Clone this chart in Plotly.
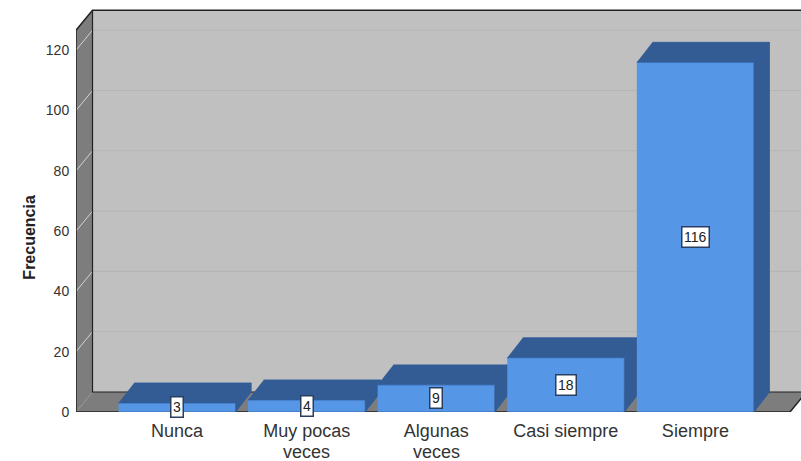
import plotly.graph_objects as go

categories = ["Nunca", "Muy pocas", "Algunas", "Casi siempre", "Siempre"]
category_second_lines = ["", "veces", "veces", "", ""]
frequencies = [3, 4, 9, 18, 116]
y_ticks = [0, 20, 40, 60, 80, 100, 120]

BAR_W = 0.9035
DX = 0.1274
BAR_DX = 0.12
DY = 6.63
X0, X1 = -0.78, 4.815
Y_TOP = 136.65
FRAME_TOP = 126.6
FRAME_R = 4.73

FRONT = "#5596e6"
DARK = "#345c94"
EDGE = "#2f5c9c"
WALL = "#c0c0c0"
SIDE = "#7d7d7d"
fig = go.Figure()


def poly(xs, ys, fill, line=None, width=0.0):
    fig.add_trace(go.Scatter(
        x=xs, y=ys, mode="lines", fill="toself", fillcolor=fill,
        line=dict(color=line or fill, width=width),
        hoverinfo="skip", showlegend=False))


def seg(xs, ys, color, width):
    fig.add_trace(go.Scatter(x=xs, y=ys, mode="lines", line=dict(color=color, width=width),
                             hoverinfo="skip", showlegend=False))


# Back wall, left wall, floor
poly([X0 + DX, X1 + 1, X1 + 1, X0 + DX], [DY, DY, FRAME_TOP + DY, FRAME_TOP + DY], WALL)
poly([X0, X0 + DX, X0 + DX, X0], [0, DY, FRAME_TOP + DY, FRAME_TOP], SIDE)
poly([X0, FRAME_R, FRAME_R + DX, X0 + DX], [0, 0, DY, DY], SIDE)

# Gridlines on both walls
for t in y_ticks[1:]:
    seg([X0 + DX, X1 + 1], [t + DY, t + DY], "#b4b4b4", 1)
    seg([X0, X0 + DX], [t, t + DY], "#d4d4d4", 1)

# Frame lines
seg([X0, X0, X0 + DX, X1 + 1], [0, FRAME_TOP, FRAME_TOP + DY, FRAME_TOP + DY], "#222222", 1.5)
seg([X0 + DX, X0 + DX, FRAME_R + DX], [FRAME_TOP + DY, DY, DY], "#222222", 1.2)
seg([X0, FRAME_R, FRAME_R + DX], [0, 0, DY], "#222222", 1.5)

# Bars drawn as boxes from the data
for i, v in enumerate(frequencies):
    l, r = i - BAR_W / 2, i + BAR_W / 2
    poly([r, r + BAR_DX, r + BAR_DX, r], [0, DY, v + DY, v], DARK, EDGE, 0.8)
    poly([l, r, r + BAR_DX, l + BAR_DX], [v, v, v + DY, v + DY], DARK, EDGE, 0.8)
    poly([l, r, r, l], [0, 0, v, v], FRONT, EDGE, 0.8)

# Value labels
for i, v in enumerate(frequencies):
    fig.add_annotation(x=i, y=v / 2, text=str(v), showarrow=False, bgcolor="white",
                       bordercolor="#2a3f5f", borderwidth=1.5, borderpad=1.5,
                       font=dict(family="Liberation Sans", size=14, color="#222222"))

# Second lines of the wrapped category labels
for i, t in enumerate(category_second_lines):
    if t:
        fig.add_annotation(x=i, y=0, text=t, showarrow=False, yanchor="top", yshift=-28,
                           font=dict(family="Liberation Sans", size=18, color="#333333"))

# Axis title
fig.add_annotation(xref="paper", yref="y", x=0, xshift=-57, y=58, text="<b>Frecuencia</b>",
                   textangle=-90, showarrow=False,
                   font=dict(family="Liberation Sans", size=16, color="#222222"))

fig.update_layout(
    width=801, height=461,
    margin=dict(l=76, r=0, t=0, b=49),
    paper_bgcolor="white", plot_bgcolor="white",
    showlegend=False,
    xaxis=dict(range=[X0, X1], tickmode="array", tickvals=list(range(len(categories))),
               ticktext=categories, showgrid=False, zeroline=False, showline=False,
               ticks="outside", ticklen=2, tickcolor="rgba(0,0,0,0)",
               tickfont=dict(family="Liberation Sans", size=18, color="#333333")),
    yaxis=dict(range=[0, Y_TOP], tickmode="array", tickvals=y_ticks, showgrid=False,
               zeroline=False, showline=False, ticks="outside", ticklen=3,
               tickcolor="rgba(0,0,0,0)",
               tickfont=dict(family="Liberation Sans", size=14, color="#333333")),
)
fig.write_html("out.html", config={"displayModeBar": False},
               post_script="document.body.style.margin='0';document.body.style.overflow='hidden';")
